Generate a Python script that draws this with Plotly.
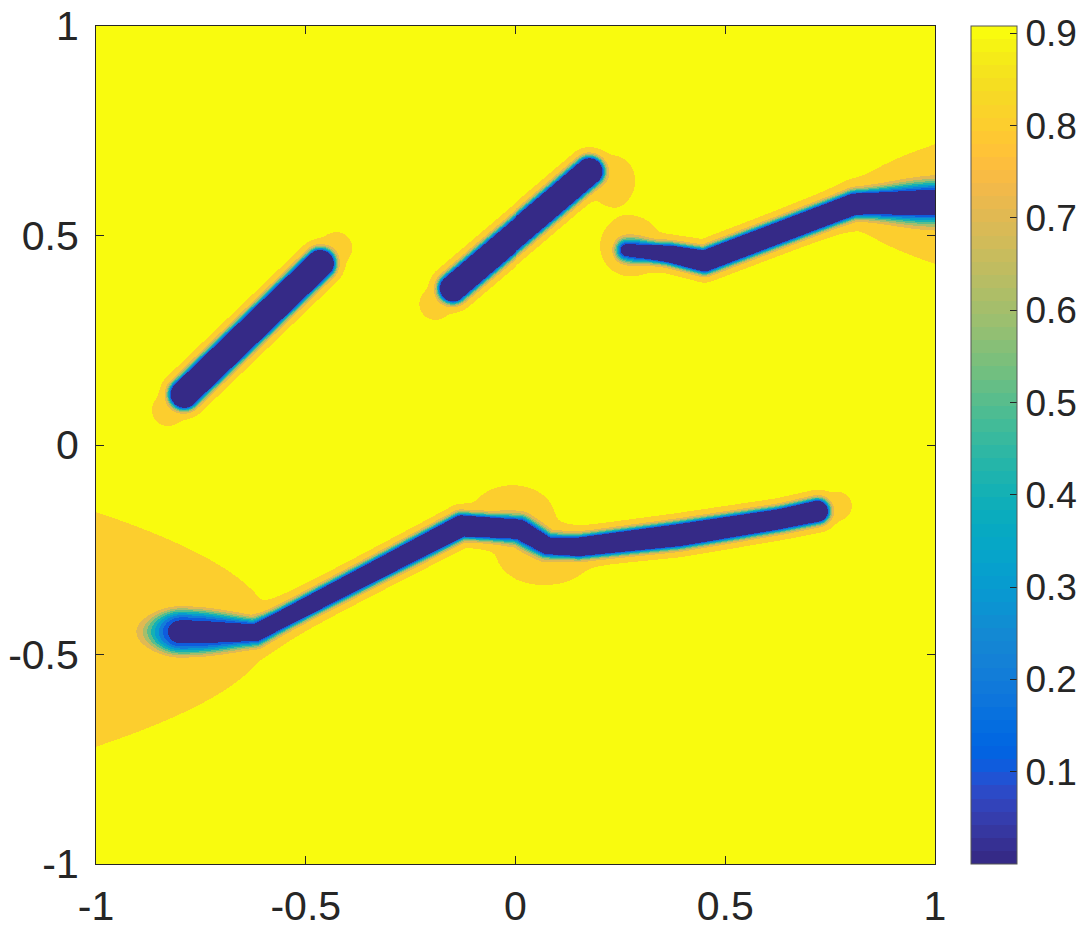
import numpy as np
import plotly.graph_objects as go

# ---------------- data: crack centrelines (x, y) and core half-widths ----------------
crack1_x = [-0.790, -0.466]
crack1_y = [0.121, 0.433]
crack1_w = [0.030, 0.030]

crack2_x = [-0.150, 0.177]
crack2_y = [0.374, 0.653]
crack2_w = [0.029, 0.029]

crack3_x = [0.265, 0.368, 0.451, 0.808, 1.011]
crack3_y = [0.465, 0.456, 0.439, 0.575, 0.580]
crack3_w = [0.0095, 0.018, 0.0227, 0.0227, 0.0227]

crack4_x = [-0.798, -0.619, -0.130, 0.010, 0.077, 0.153, 0.391, 0.630, 0.720]
crack4_y = [-0.446, -0.448, -0.193, -0.201, -0.241, -0.243, -0.215, -0.177, -0.158]
crack4_w = [0.013, 0.017, 0.023, 0.020, 0.017, 0.020, 0.024, 0.0215, 0.0226]

# damaged (slightly lowered) zones: centre, spread, x-exponent, depth
halo_x = [-1.00, -0.007, 0.070, 1.00, 0.232, 0.275, -0.8285, -0.428, -0.192, 0.768]
halo_y = [-0.44, -0.167, -0.263, 0.575, 0.630, 0.475, 0.0835, 0.470, 0.3365, -0.146]
halo_sx = [0.173, 0.070, 0.080, 0.093, 0.040, 0.050, 0.030, 0.030, 0.030, 0.028]
halo_sy = [0.180, 0.050, 0.050, 0.094, 0.045, 0.050, 0.030, 0.030, 0.030, 0.028]
halo_px = [1, 2, 2, 1, 2, 2, 2, 2, 2, 2]
halo_depth = [0.09, 0.06, 0.06, 0.08, 0.05, 0.065, 0.04, 0.04, 0.04, 0.035]

# zones where the transition is wider: centre, spread, widening factor
soft_x = [-0.80, 1.00, 0.03, 0.275]
soft_y = [-0.446, 0.575, -0.215, 0.465]
soft_sx = [0.12, 0.12, 0.07, 0.04]
soft_sy = [0.05, 0.08, 0.06, 0.04]
soft_k = [8.0, 2.5, 0.6, 1.2]

v_max = 0.908          # intact value
trans_len = 0.0095     # transition length
levels_step = 0.1      # contour spacing
cbar_ticks = [0.1, 0.2, 0.3, 0.4, 0.5, 0.6, 0.7, 0.8, 0.9]
x_ticks = [-1, -0.5, 0, 0.5, 1]
y_ticks = [-1, -0.5, 0, 0.5, 1]

# parula colormap (64 entries)
PARULA = [
    [0.2081, 0.1663, 0.5292], [0.2116, 0.1898, 0.5777], [0.2123, 0.2138, 0.6270], [0.2081, 0.2386, 0.6771],
    [0.1959, 0.2645, 0.7279], [0.1707, 0.2919, 0.7792], [0.1253, 0.3242, 0.8303], [0.0591, 0.3598, 0.8683],
    [0.0117, 0.3875, 0.8820], [0.0060, 0.4086, 0.8828], [0.0165, 0.4266, 0.8786], [0.0329, 0.4430, 0.8720],
    [0.0498, 0.4586, 0.8641], [0.0629, 0.4737, 0.8554], [0.0723, 0.4887, 0.8467], [0.0779, 0.5040, 0.8384],
    [0.0793, 0.5200, 0.8312], [0.0749, 0.5375, 0.8263], [0.0641, 0.5570, 0.8240], [0.0488, 0.5772, 0.8228],
    [0.0343, 0.5966, 0.8199], [0.0265, 0.6137, 0.8135], [0.0239, 0.6287, 0.8038], [0.0231, 0.6418, 0.7913],
    [0.0228, 0.6535, 0.7768], [0.0267, 0.6642, 0.7607], [0.0384, 0.6743, 0.7436], [0.0590, 0.6838, 0.7254],
    [0.0843, 0.6928, 0.7062], [0.1133, 0.7015, 0.6859], [0.1453, 0.7098, 0.6646], [0.1801, 0.7177, 0.6424],
    [0.2178, 0.7250, 0.6193], [0.2586, 0.7317, 0.5954], [0.3022, 0.7376, 0.5712], [0.3482, 0.7424, 0.5473],
    [0.3953, 0.7459, 0.5244], [0.4420, 0.7481, 0.5033], [0.4871, 0.7491, 0.4840], [0.5300, 0.7491, 0.4661],
    [0.5709, 0.7485, 0.4494], [0.6099, 0.7473, 0.4337], [0.6473, 0.7456, 0.4188], [0.6834, 0.7435, 0.4044],
    [0.7184, 0.7411, 0.3905], [0.7525, 0.7384, 0.3768], [0.7858, 0.7356, 0.3633], [0.8185, 0.7327, 0.3498],
    [0.8507, 0.7299, 0.3360], [0.8824, 0.7274, 0.3217], [0.9139, 0.7258, 0.3063], [0.9450, 0.7261, 0.2886],
    [0.9739, 0.7314, 0.2666], [0.9938, 0.7455, 0.2403], [0.9990, 0.7653, 0.2164], [0.9955, 0.7861, 0.1967],
    [0.9880, 0.8066, 0.1794], [0.9789, 0.8271, 0.1633], [0.9697, 0.8481, 0.1475], [0.9626, 0.8705, 0.1309],
    [0.9589, 0.8949, 0.1132], [0.9598, 0.9218, 0.0948], [0.9661, 0.9514, 0.0755], [0.9763, 0.9831, 0.0538],
]


def rgb(c):
    return "rgb(%d,%d,%d)" % tuple(int(round(255 * v)) for v in c)


n = len(PARULA)
colorscale = []
for i, c in enumerate(PARULA):
    colorscale.append([i / n, rgb(c)])
    colorscale.append([(i + 1) / n, rgb(c)])

# ---------------- build the field on a grid ----------------
nx, ny = 840, 838
xc = -1 + (np.arange(nx) + 0.5) * 2 / nx
yc = -1 + (np.arange(ny) + 0.5) * 2 / ny
X, Y = np.meshgrid(xc, yc)


def thick_dist(xs, ys, ws):
    best = np.full(X.shape, np.inf)
    for i in range(len(xs) - 1):
        ax, ay, bx, by = xs[i], ys[i], xs[i + 1], ys[i + 1]
        dx, dy = bx - ax, by - ay
        L2 = dx * dx + dy * dy
        t = np.clip(((X - ax) * dx + (Y - ay) * dy) / L2, 0, 1)
        d = np.hypot(X - (ax + t * dx), Y - (ay + t * dy)) - (ws[i] + t * (ws[i + 1] - ws[i]))
        best = np.minimum(best, d)
    return best


s = np.minimum.reduce([
    thick_dist(crack1_x, crack1_y, crack1_w),
    thick_dist(crack2_x, crack2_y, crack2_w),
    thick_dist(crack3_x, crack3_y, crack3_w),
    thick_dist(crack4_x, crack4_y, crack4_w),
])

D = np.zeros_like(X)
for cx, cy, sx, sy, p, dp in zip(halo_x, halo_y, halo_sx, halo_sy, halo_px, halo_depth):
    D += dp * np.exp(-(np.abs(X - cx) / sx) ** p - ((Y - cy) / sy) ** 2)

M = np.ones_like(X)
for cx, cy, sx, sy, k in zip(soft_x, soft_y, soft_sx, soft_sy, soft_k):
    M += k * np.exp(-((X - cx) / sx) ** 2 - ((Y - cy) / sy) ** 2)

sp = np.clip(s, 0, None)
v = (v_max - D) * (1 - np.exp(-(sp / (trans_len * M)) ** 1.4))

# filled-contour bands
band = np.clip(np.floor(v / levels_step + 1e-9) * levels_step, 0, 0.9).astype(np.float32)

FONT = dict(size=41, color="#262626", family="Liberation Sans, Arial, sans-serif")
CB_FONT = dict(size=37, color="#262626", family="Liberation Sans, Arial, sans-serif")

fig = go.Figure()
fig.add_trace(go.Heatmap(
    z=band, x0=xc[0], dx=2 / nx, y0=yc[0], dy=2 / ny,
    colorscale=colorscale, zmin=0.0, zmax=v_max, zsmooth=False,
    hoverinfo="skip",
    colorbar=dict(
        x=(971 - 96) / 839, xanchor="left", xpad=0,
        y=0.5, yanchor="middle", len=1, lenmode="fraction", ypad=0,
        thickness=46, thicknessmode="pixels",
        outlinewidth=1, outlinecolor="#555555",
        tickvals=cbar_ticks, ticktext=[f"{t:g}" for t in cbar_ticks],
        ticks="inside", ticklen=7, tickcolor="#262626", tickwidth=1,
        tickfont=CB_FONT,
    ),
))

axis_common = dict(
    range=[-1, 1], showgrid=False, zeroline=False,
    ticks="inside", ticklen=8, tickwidth=1, tickcolor="#262626",
    showline=True, linecolor="#262626", linewidth=1, mirror="ticks",
    tickfont=FONT,
)
fig.update_layout(
    width=1080, height=930,
    margin=dict(l=96, r=145, t=26, b=66, autoexpand=False),
    paper_bgcolor="white", plot_bgcolor="white",
    xaxis=dict(tickvals=x_ticks, ticktext=[f"{t:g}" for t in x_ticks],
               ticklabelstandoff=6, **axis_common),
    yaxis=dict(tickvals=y_ticks, ticktext=[f"{t:g}" for t in y_ticks],
               ticklabelstandoff=8, **axis_common),
    showlegend=False,
)
fig.write_html("out.html")
